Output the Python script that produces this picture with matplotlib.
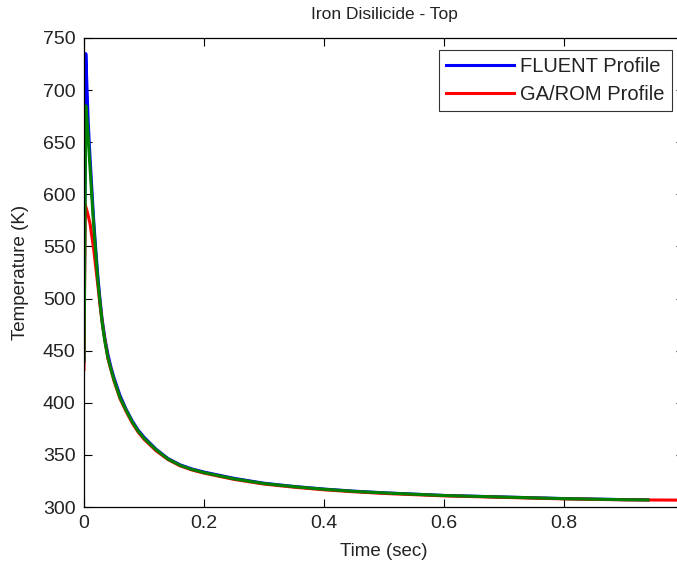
import matplotlib
matplotlib.use('Agg')
import matplotlib.pyplot as plt

plt.rcParams['font.family'] = ['Liberation Sans', 'DejaVu Sans']

# FLUENT profile (blue)
t_fluent = [0.0, 0.003, 0.005, 0.007, 0.009, 0.011, 0.013, 0.015, 0.017, 0.020,
            0.023, 0.026, 0.030, 0.035, 0.040, 0.045, 0.050, 0.060, 0.070, 0.080,
            0.090, 0.100, 0.120, 0.140, 0.160, 0.180, 0.200, 0.250, 0.300, 0.350,
            0.400, 0.450, 0.500, 0.600, 0.700, 0.800, 0.900, 0.940]
T_fluent = [440, 735, 702, 670, 646, 626, 606, 586, 568, 544,
            522, 503, 481, 461, 446, 434, 424, 407, 394, 383,
            374, 367, 355.5, 346.5, 340.5, 336.5, 333.5, 327.5, 322.8, 319.7,
            317.2, 315.2, 313.6, 311.1, 309.6, 308.1, 307.1, 306.9]

# GA/ROM profile (red)
t_garom = [0.0, 0.002, 0.006, 0.010, 0.013, 0.016, 0.020, 0.024, 0.027,
           0.032, 0.040, 0.050, 0.060, 0.070, 0.080, 0.090, 0.100, 0.120, 0.140,
           0.160, 0.180, 0.200, 0.250, 0.300, 0.350, 0.400, 0.450, 0.500, 0.600,
           0.700, 0.800, 0.900, 0.950, 1.000]
T_garom = [432, 590, 582, 572, 560, 548, 528, 508, 492,
           470, 442, 421, 404, 392, 381, 372, 365, 354, 345.5,
           339.5, 335.5, 332.5, 326.5, 322, 319, 316.5, 314.6, 313, 310.7,
           309.2, 307.8, 306.9, 306.7, 306.6]

# third profile (green, no legend entry)
t_third = [0.0, 0.003, 0.005, 0.007, 0.009, 0.011, 0.013, 0.015, 0.017, 0.020,
           0.023, 0.026, 0.030, 0.035, 0.040, 0.045, 0.050, 0.060, 0.070, 0.080,
           0.090, 0.100, 0.120, 0.140, 0.160, 0.180, 0.200, 0.250, 0.300, 0.350,
           0.400, 0.450, 0.500, 0.600, 0.700, 0.800, 0.900, 0.940]
T_third = [440, 685, 672, 655, 635, 617, 598, 580, 563, 540,
           518, 500, 478, 458, 443, 432, 422, 405, 393, 382,
           373, 366, 355, 346, 340, 336, 333, 327, 322.5, 319.5,
           317, 315, 313.5, 311, 309.5, 308, 307, 306.8]

fig = plt.figure(figsize=(6.77, 5.65), dpi=100)
ax = fig.add_axes([84/677, 58/565, 600/677, 469/565])

ax.plot(t_fluent, T_fluent, color='b', lw=2.2, label='FLUENT Profile')
ax.plot(t_garom, T_garom, color='r', lw=2.2, label='GA/ROM Profile')
ax.plot(t_third, T_third, color=(0, 0.5, 0), lw=2.2)

ax.set_xlim(0, 1)
ax.set_ylim(300, 750)
ax.set_xticks([0, 0.2, 0.4, 0.6, 0.8, 1])
ax.set_xticklabels(['0', '0.2', '0.4', '0.6', '0.8', '1'])
ax.set_yticks(range(300, 751, 50))
ax.tick_params(direction='in', length=6, width=0.8, top=True, right=True,
               labelsize=14, pad=6, labelcolor='#222222')
for s in ax.spines.values():
    s.set_linewidth(0.9)

ax.set_title('Iron Disilicide - Top', fontsize=12.5, pad=14, color='#222222')
ax.set_xlabel('Time (sec)', fontsize=13.5, labelpad=8, color='#222222')
ax.set_ylabel('Temperature (K)', fontsize=13.5, labelpad=10, color='#222222')

leg = ax.legend(loc='upper right', fontsize=14.5, frameon=True, fancybox=False,
                edgecolor='black', borderaxespad=0.6, handlelength=3.4,
                handletextpad=0.3, borderpad=0.35, labelspacing=0.45)
leg.get_frame().set_linewidth(0.8)
for txt in leg.get_texts():
    txt.set_color('#222222')

fig.savefig('out.png', dpi=100)
